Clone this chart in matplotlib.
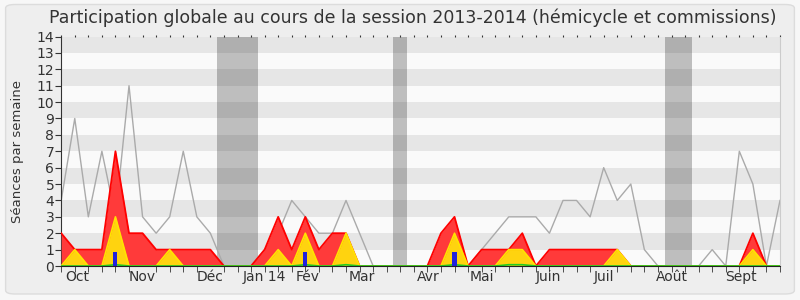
import matplotlib
matplotlib.use("Agg")
import matplotlib.pyplot as plt
from matplotlib.patches import FancyBboxPatch
import numpy as np


# Data (one value per week, session 2013-2014)
weeks = list(range(54))

# grey line: median of all deputies
median_total = [4, 9, 3, 7, 3, 11, 3, 2, 3, 7, 3, 2, 0, 0, 0, 1, 2, 4, 3, 2,
                2, 4, 2, 0, 0, 0, 0, 0, 0, 0, 0, 1, 2, 3, 3, 3, 2, 4, 4, 3,
                6, 4, 5, 1, 0, 0, 0, 0, 1, 0, 7, 5, 0, 4]

# red area: total presence (hemicycle + commissions)
presence_total = [2, 1, 1, 1, 7, 2, 2, 1, 1, 1, 1, 1, 0, 0, 0, 1, 3, 1, 3, 1,
                  2, 2, 0, 0, 0, 0, 0, 0, 2, 3, 0, 1, 1, 1, 2, 0, 1, 1, 1, 1,
                  1, 1, 0, 0, 0, 0, 0, 0, 0, 0, 0, 2, 0, 0]

# yellow area: presence in commissions
presence_commission = [0, 1, 0, 0, 3, 0, 0, 0, 1, 0, 0, 0, 0, 0, 0, 0, 1, 0, 2, 0,
                       0, 2, 0, 0, 0, 0, 0, 0, 0, 2, 0, 0, 0, 1, 1, 0, 0, 0, 0, 0,
                       0, 1, 0, 0, 0, 0, 0, 0, 0, 0, 0, 1, 0, 0]

# green line: interventions (very small)
interventions = [0, 0, 0, 0, 0.08, 0, 0, 0, 0, 0, 0, 0, 0, 0, 0, 0, 0, 0, 0.08, 0,
                 0, 0.08, 0, 0, 0, 0, 0, 0, 0, 0.08, 0, 0, 0, 0.08, 0.08, 0, 0, 0, 0, 0,
                 0, 0, 0, 0, 0, 0, 0, 0, 0, 0, 0, 0, 0, 0]

# blue bars: oral questions
questions = [0] * 54
questions[4] = 1
questions[18] = 1
questions[29] = 1

# vacation weeks (grey bands)
vacances = [12, 13, 14, 25, 45, 46]

month_labels = ["Oct", "Nov", "Déc", "Jan 14", "Fév", "Mar", "Avr", "Mai",
                "Juin", "Juil", "Août", "Sept"]
month_pos = [1.2, 6.0, 11.0, 14.95, 18.2, 22.2, 27.05, 31.05, 35.95, 40.0, 45.05, 50.1]

ymax = 14


fig = plt.figure(figsize=(8, 3), dpi=100)
fig.patch.set_facecolor("#f7f7f7")
fig.patches.append(FancyBboxPatch((0.007, 0.02), 0.986, 0.965,
                                  boxstyle="round,pad=0,rounding_size=0.012",
                                  transform=fig.transFigure, facecolor="#eeeeee",
                                  edgecolor="#dcdcdc", linewidth=1, zorder=-10))

ax = fig.add_axes([0.0765, 0.1133, 0.8985, 0.7650])
ax.set_facecolor("#fafafa")

# striped background
for k in range(1, ymax, 2):
    ax.axhspan(k, k + 1, color="#e6e6e6", lw=0, zorder=0)

# vacation bands
for w in vacances:
    ax.axvspan(w - 0.5, w + 0.5, color="black", alpha=0.24, lw=0, zorder=1)

x = np.array(weeks)
ax.plot(x, median_total, color="#aaaaaa", lw=1, zorder=2)
ax.fill_between(x, presence_total, color="#ff3a3a", lw=0, zorder=3)
ax.plot(x, presence_total, color="#ff0000", lw=1.3, zorder=3)
ax.fill_between(x, presence_commission, color="#ffd30f", lw=0, zorder=4)
ax.plot(x, presence_commission, color="#ffe400", lw=1.2, zorder=4)
ax.plot(x, interventions, color="#22cc22", lw=1.2, zorder=5)
ax.bar(x, np.array(questions) * 0.85, width=0.3, color="#2222dd", zorder=6)

ax.set_xlim(0, 53)
ax.set_ylim(0, ymax)

# axes styling
ax.spines["top"].set_visible(False)
ax.spines["right"].set_color("#cccccc")
ax.spines["left"].set_color("#333333")
ax.spines["bottom"].set_color("#222222")
ax.spines["bottom"].set_zorder(7)

ax.set_yticks(range(0, ymax + 1))
ax.tick_params(axis="y", length=4, color="#333333", labelsize=10, labelcolor="#333333", pad=1)

ax.set_xticks(month_pos)
ax.set_xticklabels(month_labels)
ax.set_xticks(weeks, minor=True)
ax.tick_params(axis="x", which="major", length=0, labelsize=10, labelcolor="#333333", pad=3)
ax.tick_params(axis="x", which="minor", length=4, color="#333333")

# little dots at the top
top = ax.secondary_xaxis("top")
top.set_xticks(weeks)
top.set_xticklabels([])
top.tick_params(length=1.5, color="#333333")
top.spines["top"].set_visible(False)

ax.set_ylabel("Séances par semaine", fontsize=9.5, color="#333333", labelpad=9)

fig.text(0.516, 0.94, "Participation globale au cours de la session 2013-2014 (hémicycle et commissions)",
         ha="center", va="center", fontsize=12.5, color="#333333")

fig.savefig("out.png", dpi=100, facecolor=fig.get_facecolor())
